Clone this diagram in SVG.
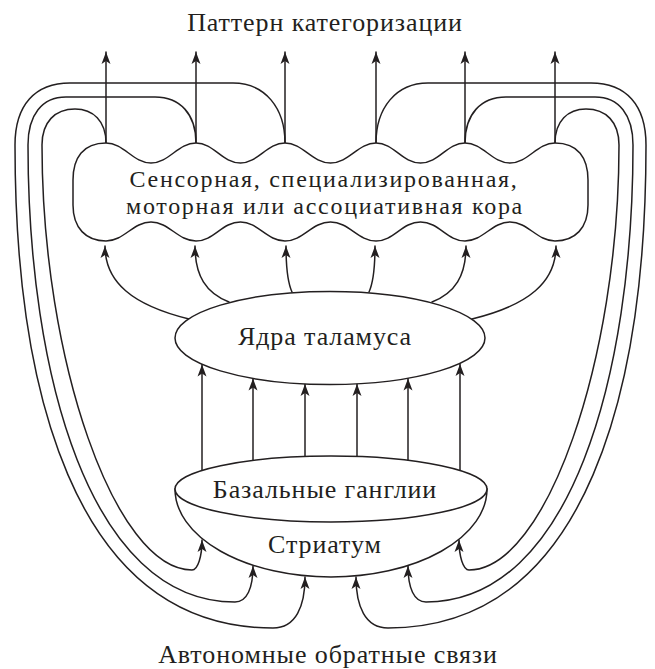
<svg xmlns="http://www.w3.org/2000/svg" width="655" height="669" viewBox="0 0 655 669">
<style>
.ln{fill:none;stroke:#231f20;stroke-width:1.5;stroke-linecap:round;stroke-linejoin:round}
.ar{marker-end:url(#ah)}
.nd{fill:#fff;stroke:#231f20;stroke-width:1.5}
.tx{font-family:"Liberation Serif","Times New Roman",serif;font-size:26px;letter-spacing:0.9px;fill:#231f20;text-anchor:middle}
.tc{font-size:24px;letter-spacing:1.7px}
</style>
<defs>
<marker id="ah" viewBox="-13 -5 14 10" refX="0" refY="0" markerWidth="14" markerHeight="10" orient="auto" markerUnits="userSpaceOnUse">
<path d="M0,0 L-12,-4.5 L-9,0 L-12,4.5 Z" fill="#231f20"/>
</marker>
</defs>
<rect width="655" height="669" fill="#fff"/>
<text class="tx" x="325" y="31">Паттерн категоризации</text>
<text class="tx" x="328" y="663">Автономные обратные связи</text>
<g id="connectors">
<path class="ln ar" d="M106,143 V52"/>
<path class="ln ar" d="M196,143 V52"/>
<path class="ln ar" d="M285,143 V52"/>
<path class="ln ar" d="M376,143 V52"/>
<path class="ln ar" d="M465,143 V52"/>
<path class="ln ar" d="M555,143 V52"/>
<path class="ln ar" d="M106,143 C106,121 93,109 75,109 C55,109 42,122 42,145 C42,360 115,570 192,570 C198,570 202,556 202,540"/>
<path class="ln ar" d="M196,143 C196,114 180,97 155,97 L66,97 C42,97 28,115 28,145 C28,375 90,602 235,602 C247,602 253,588 253,566"/>
<path class="ln ar" d="M285,143 C285,108 265,83 233,83 L70,83 C35,83 15,105 15,145 C15,380 70,628 273,628 C296,628 305,606 305,577"/>
<path class="ln ar" d="M555,143 C555,121 568,109 586,109 C606,109 619,122 619,145 C619,360 546,570 469,570 C463,570 459,556 459,540"/>
<path class="ln ar" d="M465,143 C465,114 481,97 506,97 L595,97 C619,97 633,115 633,145 C633,375 571,602 426,602 C414,602 408,588 408,566"/>
<path class="ln ar" d="M376,143 C376,108 396,83 428,83 L591,83 C626,83 646,105 646,145 C646,380 591,628 388,628 C365,628 356,606 356,577"/>
<path class="ln ar" d="M189,319 C132,305 105,282 105,246"/>
<path class="ln ar" d="M229,302 C206,293 195,276 195,246"/>
<path class="ln ar" d="M292,292 C287,281 286,266 286,246"/>
<path class="ln ar" d="M369,292 C374,281 375,266 375,246"/>
<path class="ln ar" d="M432,302 C455,293 466,276 466,246"/>
<path class="ln ar" d="M472,319 C529,305 556,282 556,246"/>
<path class="ln ar" d="M202,470.5 V364.5"/>
<path class="ln ar" d="M253,460.5 V378.5"/>
<path class="ln ar" d="M305,456.5 V384"/>
<path class="ln ar" d="M357,456.5 V384"/>
<path class="ln ar" d="M408,460.5 V378.5"/>
<path class="ln ar" d="M460,470.5 V364"/>
</g>
<g id="cortex">
<path class="nd" d="M106,143 C124,143 133,163 151,163 C169,163 178,143 196,143 C214,143 222,163 240.5,163 C258,163 267,143 285,143 C303,143 312,163 330.5,163 C349,163 358,143 376,143 C394,143 402,163 420.5,163 C439,163 447,143 465,143 C483,143 492,163 510,163 C528,163 537,143 555,143 C578,143 588,158 588,180 L588,205 C588,228 575,241 555,241 C537,241 528,222 510,222 C492,222 483,241 465,241 C447,241 439,222 420.5,222 C402,222 394,241 376,241 C358,241 349,222 330.5,222 C312,222 303,241 285,241 C267,241 258,222 240.5,222 C222,222 214,241 196,241 C178,241 169,222 151,222 C133,222 124,241 106,241 C86,241 73,228 73,205 L73,180 C73,158 83,143 106,143 Z"/>
<text class="tx tc" y="187"><tspan x="324">Сенсорная, специализированная,</tspan><tspan x="325" dy="27">моторная или ассоциативная кора</tspan></text>
</g>
<g id="thalamus">
<ellipse class="nd" cx="330" cy="338" rx="155" ry="46.5"/>
<text class="tx" x="325" y="345">Ядра таламуса</text>
</g>
<g id="basal-ganglia">
<path class="nd" d="M175,489 A156,88 0 0 0 487,489 Z"/>
<ellipse class="nd" cx="331" cy="489" rx="156" ry="33"/>
<text class="tx" x="325" y="498">Базальные ганглии</text>
<text class="tx" x="325" y="553">Стриатум</text>
</g>
</svg>
